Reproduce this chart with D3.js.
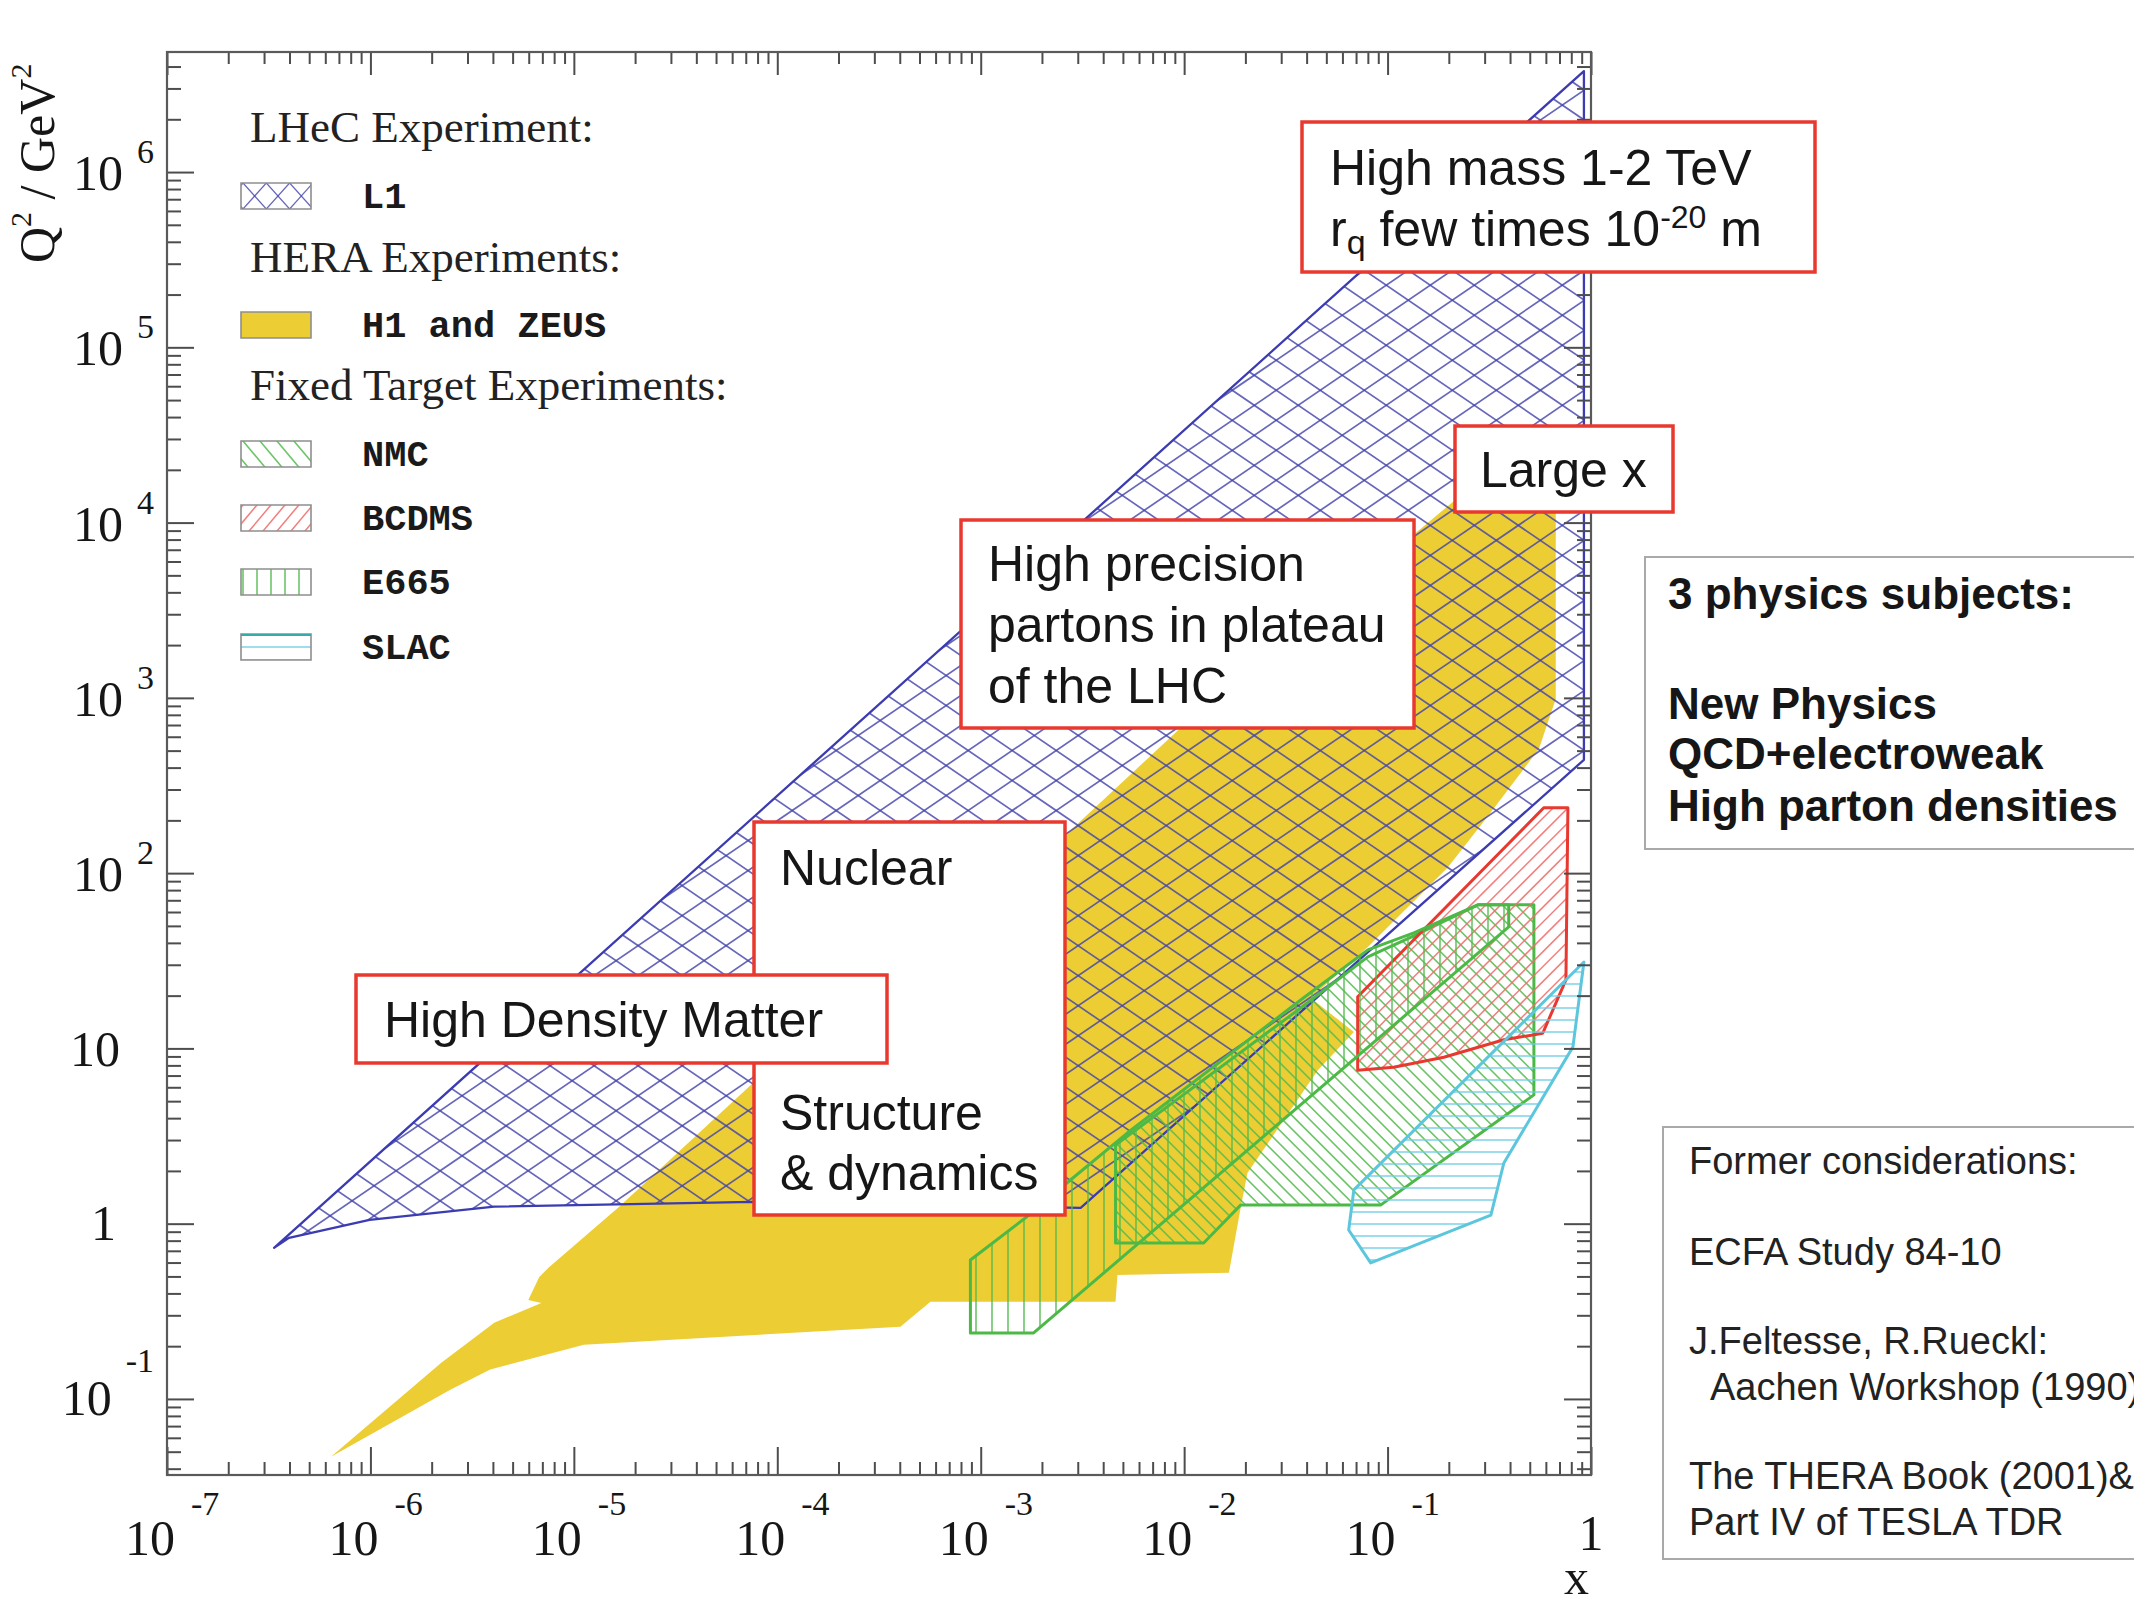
<!DOCTYPE html>
<html>
<head>
<meta charset="utf-8">
<title>Kinematic plane of deep inelastic scattering</title>
<script src="https://cdn.jsdelivr.net/npm/d3@7"></script>
<style>
  html, body { margin: 0; padding: 0; background: #fff; }
  svg { display: block; }
</style>
</head>
<body>
<svg id="chart" width="2134" height="1600"></svg>
<script>
// ---------------------------------------------------------------
// Regions of the (x, Q^2) plane, given as polygon vertices
// ---------------------------------------------------------------

// LHeC experiment, L1 acceptance
const l1X  = [3.36e-7, 3.98e-7, 9.9e-7, 4.06e-6, 7.6e-5, 3.1e-3, 0.923, 0.923];
const l1Q2 = [0.728, 0.83, 1.05, 1.25, 1.33, 1.23, 443, 3.77e6];

// HERA experiments, H1 and ZEUS
const heraX  = [6.4e-7, 2.47e-6, 3.88e-6, 1.12e-5, 4.03e-4, 5.66e-4, 4.6e-3, 4.7e-3,
                0.0166, 0.019, 0.0205, 0.0454, 0.0683, 0.0419, 0.080, 0.198, 0.318,
                0.555, 0.671, 0.671, 0.224, 0.149, 0.00995, 0.00267, 7.6e-5, 1.67e-5,
                7.5e-6, 6.76e-6, 5.97e-6, 6.92e-6, 4.06e-6, 2.23e-6];
const heraQ2 = [0.0468, 0.113, 0.147, 0.204, 0.258, 0.358, 0.358, 0.51,
                0.524, 1.25, 1.95, 7.5, 12.4, 19.4, 37.9, 108, 218,
                512, 986, 13450, 14000, 9440, 700, 169, 6.35, 1.25,
                0.56, 0.497, 0.367, 0.353, 0.272, 0.161];

// Fixed target experiments
const nmcX  = [0.0046, 0.0046, 0.01247, 0.019, 0.0927, 0.524, 0.524, 0.278, 0.1346, 0.080, 0.0374];
const nmcQ2 = [2.81, 0.776, 0.776, 1.28, 1.28, 5.43, 65.9, 65.9, 43.9, 33.3, 17.0];

const bcdmsX  = [0.0713, 0.0713, 0.107, 0.189, 0.373, 0.579, 0.753, 0.77, 0.586];
const bcdmsQ2 = [19.7, 7.5, 7.8, 8.9, 11.2, 12.2, 24.6, 236, 236];

const e665X  = [8.9e-4, 8.9e-4, 1.82e-3, 0.394, 0.394, 0.278, 0.1346, 0.080, 0.0374, 5.27e-3, 2.77e-3, 1.66e-3];
const e665Q2 = [0.62, 0.238, 0.238, 49.3, 65.9, 65.9, 45.6, 36.5, 18.9, 3.3, 1.78, 1.08];

const slacX  = [0.923, 0.815, 0.373, 0.322, 0.0826, 0.0644, 0.0683];
const slacQ2 = [31.1, 10.2, 2.22, 1.12, 0.597, 0.92, 1.56];

// Axis decades (powers of ten carrying a label)
const xDecades = [-7, -6, -5, -4, -3, -2, -1, 0];
const yDecades = [-1, 0, 1, 2, 3, 4, 5, 6];

// Legend
const legendHeads = ["LHeC Experiment:", "HERA Experiments:", "Fixed Target Experiments:"];
const legendNames = ["L1", "H1 and ZEUS", "NMC", "BCDMS", "E665", "SLAC"];

// Annotations
const massLine1 = "High mass 1-2 TeV";
const precisionLines = ["High precision", "partons in plateau", "of the LHC"];
const subjectLines = ["3 physics subjects:", "New Physics", "QCD+electroweak", "High parton densities"];
const formerLines = ["Former considerations:", "ECFA Study 84-10", "J.Feltesse, R.Rueckl:",
                     "Aachen Workshop (1990)", "The THERA Book (2001)&", "Part IV of TESLA TDR"];

// ---------------------------------------------------------------
const SERIF = "'Liberation Serif','Times New Roman',Times,serif";
const SANS  = "'Liberation Sans',Arial,Helvetica,sans-serif";
const MONO  = "'Liberation Mono','Courier New',monospace";

const COL = {
  yellow: "#ecce34",
  blue: "#3b3bb2", mesh: "rgba(68,68,172,0.82)",
  green: "#4cb946", greenHatch: "rgba(84,186,78,0.85)",
  red: "#e8382f", redHatch: "rgba(238,112,110,0.9)",
  cyan: "#5cc6dd", cyanHatch: "rgba(110,205,228,0.9)",
  box: "#e8392f", grey: "#a9a9a9", ink: "#161616"
};

const frame = { left: 167, right: 1591, top: 52, bottom: 1475 };

const x = d3.scaleLog().domain([1e-7, 1]).range([frame.left, frame.right]);
const y = d3.scaleLog().domain([Math.pow(10, -1.434), Math.pow(10, 6.685)])
                       .range([frame.bottom, frame.top]);

const svg = d3.select("#chart");
svg.append("rect").attr("width", 2134).attr("height", 1600).attr("fill", "#fff");
const defs = svg.append("defs");
const closed = d3.line().curve(d3.curveLinearClosed);
let clipCount = 0;

// Parallel hatch lines of a given direction and spacing, clipped to a shape
function hatch(g, shapeD, box, angleDeg, spacing, color, width, ox = 0, oy = 0) {
  const id = "hatchclip" + (clipCount++);
  defs.append("clipPath").attr("id", id).append("path").attr("d", shapeD);
  const a = angleDeg * Math.PI / 180;
  const u = [Math.cos(a), Math.sin(a)], n = [-Math.sin(a), Math.cos(a)];
  const corners = [[box.x0, box.y0], [box.x1, box.y0], [box.x0, box.y1], [box.x1, box.y1]];
  const proj = corners.map(c => (c[0] - ox) * n[0] + (c[1] - oy) * n[1]);
  const t0 = Math.floor(d3.min(proj) / spacing) * spacing, t1 = d3.max(proj);
  const cx = (box.x0 + box.x1) / 2, cy = (box.y0 + box.y1) / 2;
  const L = Math.hypot(box.x1 - box.x0, box.y1 - box.y0) + 4;
  const s = (cx - ox) * u[0] + (cy - oy) * u[1];
  const segs = [];
  for (let t = t0; t <= t1 + 0.01; t += spacing) {
    const px = ox + t * n[0] + s * u[0], py = oy + t * n[1] + s * u[1];
    segs.push([px - L * u[0], py - L * u[1], px + L * u[0], py + L * u[1]]);
  }
  g.append("g").attr("clip-path", `url(#${id})`)
    .selectAll("line").data(segs).join("line")
    .attr("x1", d => d[0]).attr("y1", d => d[1])
    .attr("x2", d => d[2]).attr("y2", d => d[3])
    .attr("stroke", color).attr("stroke-width", width);
}

function polygonOf(xs, qs) { return xs.map((v, i) => [x(v), y(qs[i])]); }
function boxOf(p) {
  return { x0: d3.min(p, q => q[0]), x1: d3.max(p, q => q[0]),
           y0: d3.min(p, q => q[1]), y1: d3.max(p, q => q[1]) };
}

function hatchedRegion(parent, xs, qs, families, hatchColor, hatchWidth, stroke, strokeWidth) {
  const p = polygonOf(xs, qs);
  const d = closed(p);
  const g = parent.append("g");
  families.forEach(f => hatch(g, d, boxOf(p), f.angle, f.spacing, hatchColor, hatchWidth));
  g.append("path").attr("d", d).attr("fill", "none")
    .attr("stroke", stroke).attr("stroke-width", strokeWidth).attr("stroke-linejoin", "round");
}

// ---------------------------------------------------------------
// Data regions
// ---------------------------------------------------------------
const plot = svg.append("g");

plot.append("path").attr("d", closed(polygonOf(heraX, heraQ2))).attr("fill", COL.yellow);

// diamond mesh: cells about 44 px wide and 30 px tall
hatchedRegion(plot, l1X, l1Q2, [{ angle: 34.3, spacing: 24.8 }, { angle: -34.3, spacing: 24.8 }],
              COL.mesh, 1.7, COL.blue, 2.3);

hatchedRegion(plot, nmcX, nmcQ2, [{ angle: 45, spacing: 9.6 }], COL.greenHatch, 1.6, COL.green, 3);
hatchedRegion(plot, bcdmsX, bcdmsQ2, [{ angle: -45, spacing: 10.5 }], COL.redHatch, 1.5, COL.red, 3);
hatchedRegion(plot, e665X, e665Q2, [{ angle: 90, spacing: 16 }], COL.greenHatch, 1.6, COL.green, 3);
hatchedRegion(plot, slacX, slacQ2, [{ angle: 0, spacing: 12 }], COL.cyanHatch, 1.5, COL.cyan, 3);

// ---------------------------------------------------------------
// Axes: ticks on all four sides, pointing inwards
// ---------------------------------------------------------------
const xMajor = xDecades.map(e => Math.pow(10, e));
const xMinor = d3.merge(xDecades.slice(0, -1).map(e => d3.range(2, 10).map(k => k * Math.pow(10, e))));
const yMajor = yDecades.map(e => Math.pow(10, e));
const yMinor = d3.merge(d3.range(-2, 7).map(e => d3.range(2, 10).map(k => k * Math.pow(10, e))))
  .filter(v => v >= y.domain()[0] && v <= y.domain()[1]);

function tickAxis(axisFn, scale, values, size, transform) {
  const g = svg.append("g").attr("transform", transform)
    .call(axisFn(scale).tickValues(values).tickSize(size).tickSizeOuter(0).tickFormat(""));
  g.select(".domain").remove();
  g.selectAll(".tick text").remove();
  g.selectAll(".tick line").attr("stroke", "#4d4d4d").attr("stroke-width", 2);
}
tickAxis(d3.axisBottom, x, xMajor, -28, `translate(0,${frame.bottom})`);
tickAxis(d3.axisBottom, x, xMinor, -13, `translate(0,${frame.bottom})`);
tickAxis(d3.axisTop, x, xMajor, -23, `translate(0,${frame.top})`);
tickAxis(d3.axisTop, x, xMinor, -12, `translate(0,${frame.top})`);
tickAxis(d3.axisLeft, y, yMajor, -27, `translate(${frame.left},0)`);
tickAxis(d3.axisLeft, y, yMinor, -14, `translate(${frame.left},0)`);
tickAxis(d3.axisRight, y, yMajor, -27, `translate(${frame.right},0)`);
tickAxis(d3.axisRight, y, yMinor, -14, `translate(${frame.right},0)`);

svg.append("rect")
  .attr("x", frame.left).attr("y", frame.top)
  .attr("width", frame.right - frame.left).attr("height", frame.bottom - frame.top)
  .attr("fill", "none").attr("stroke", "#5a5a5a").attr("stroke-width", 2.2);

// x tick labels: 10 with a raised exponent
const xl = svg.append("g").attr("font-family", SERIF).attr("fill", COL.ink);
xDecades.forEach(e => {
  const px = x(Math.pow(10, e));
  if (e === 0) {
    xl.append("text").attr("x", px).attr("y", 1550).attr("text-anchor", "middle")
      .attr("font-size", 50).text("1");
    return;
  }
  xl.append("text").attr("x", px + 8).attr("y", 1555).attr("text-anchor", "end")
    .attr("font-size", 50).text("10");
  xl.append("text").attr("x", px + 24).attr("y", 1515).attr("font-size", 34).text(String(e));
});
xl.append("text").attr("x", frame.right - 2).attr("y", 1594).attr("text-anchor", "end")
  .attr("font-size", 50).text("x");

// y tick labels, right aligned
const yl = svg.append("g").attr("font-family", SERIF).attr("fill", COL.ink);
yDecades.forEach(e => {
  const py = y(Math.pow(10, e));
  if (e === 0) {
    yl.append("text").attr("x", 116).attr("y", py + 16).attr("text-anchor", "end")
      .attr("font-size", 50).text("1");
  } else if (e === 1) {
    yl.append("text").attr("x", 120).attr("y", py + 18).attr("text-anchor", "end")
      .attr("font-size", 50).text("10");
  } else {
    const exp = yl.append("text").attr("font-size", 34).text(String(e));
    const w = exp.node().getComputedTextLength();
    exp.attr("x", 154 - w).attr("y", e < 0 ? py - 27 : py - 9);
    yl.append("text").attr("x", 154 - w - 14).attr("y", py + (e < 0 ? 16 : 18))
      .attr("text-anchor", "end").attr("font-size", 50).text("10");
  }
});

// y axis title
const yt = svg.append("text").attr("transform", "translate(54,263) rotate(-90)")
  .attr("font-family", SERIF).attr("font-size", 50).attr("fill", COL.ink);
yt.append("tspan").text("Q");
yt.append("tspan").attr("font-size", 30).attr("dy", -23).text("2");
yt.append("tspan").attr("dy", 23).text(" / GeV");
yt.append("tspan").attr("font-size", 30).attr("dy", -23).text("2");

// ---------------------------------------------------------------
// Legend
// ---------------------------------------------------------------
const lg = svg.append("g");
const headBase = [142, 272, 400];
legendHeads.forEach((h, i) => {
  lg.append("text").attr("x", 250).attr("y", headBase[i])
    .attr("font-family", SERIF).attr("font-size", 45).attr("fill", "#222").text(h);
});

const swatchTop = [183, 312, 441, 505, 569, 634];
const sw = { x: 241, w: 70, h: 26 };
const swatchStyle = [
  { fam: [{ a: 48.1, s: 17.35 }, { a: -48.1, s: 17.35 }], c: COL.mesh, lw: 1.3 },
  { fill: COL.yellow },
  { fam: [{ a: 50, s: 13 }], c: COL.greenHatch, lw: 1.6 },
  { fam: [{ a: -50, s: 10.7 }], c: COL.redHatch, lw: 1.5 },
  { fam: [{ a: 90, s: 14 }], c: COL.greenHatch, lw: 1.6 },
  { fam: [{ a: 0, s: 13 }], c: COL.cyanHatch, lw: 1.6 }
];
legendNames.forEach((name, i) => {
  const top = swatchTop[i], st = swatchStyle[i];
  const g = lg.append("g");
  const rectD = `M${sw.x},${top}h${sw.w}v${sw.h}h${-sw.w}Z`;
  if (st.fill) {
    g.append("path").attr("d", rectD).attr("fill", st.fill);
  } else {
    st.fam.forEach(f => hatch(g, rectD, { x0: sw.x, x1: sw.x + sw.w, y0: top, y1: top + sw.h },
                             f.a, f.s, st.c, st.lw, sw.x + 2, top));
  }
  g.append("path").attr("d", rectD).attr("fill", "none").attr("stroke", "#8e8e8e").attr("stroke-width", 1.6);
  if (i === 5) {
    g.append("line").attr("x1", sw.x).attr("x2", sw.x + sw.w).attr("y1", top + 1).attr("y2", top + 1)
      .attr("stroke", "#3aa9a9").attr("stroke-width", 2.2);
  }
  lg.append("text").attr("x", 362).attr("y", top + 25)
    .attr("font-family", MONO).attr("font-weight", "bold").attr("font-size", 37)
    .attr("fill", "#1a1a1a").text(name);
});

// ---------------------------------------------------------------
// Annotation boxes
// ---------------------------------------------------------------
const notes = svg.append("g").attr("font-family", SANS).attr("fill", COL.ink);

function frameBox(x0, y0, w, h, stroke, sw) {
  notes.append("rect").attr("x", x0).attr("y", y0).attr("width", w).attr("height", h)
    .attr("fill", "#fff").attr("stroke", stroke).attr("stroke-width", sw);
}
function textLine(tx, ty, s, size, weight) {
  return notes.append("text").attr("x", tx).attr("y", ty).attr("font-size", size)
    .attr("font-weight", weight || "normal").text(s);
}

// High mass
frameBox(1302, 122, 513, 150, COL.box, 3.5);
textLine(1330, 185, massLine1, 50);
const rq = notes.append("text").attr("x", 1330).attr("y", 246).attr("font-size", 50);
rq.append("tspan").text("r");
rq.append("tspan").attr("font-size", 34).attr("dy", 8).text("q");
rq.append("tspan").attr("dy", -8).text(" few times 10");
rq.append("tspan").attr("font-size", 32).attr("dy", -18).text("-20");
rq.append("tspan").attr("dy", 18).text(" m");

// Large x
frameBox(1455, 426, 218, 86, COL.box, 3.5);
textLine(1480, 487, "Large x", 50);

// High precision
frameBox(961, 520, 453, 208, COL.box, 3.5);
precisionLines.forEach((s, i) => textLine(988, 581 + i * 61, s, 50));

// Nuclear / Structure & dynamics
frameBox(754, 822, 311, 393, COL.box, 3.5);
textLine(780, 885, "Nuclear", 50);
textLine(780, 1130, "Structure", 50);
textLine(780, 1190, "& dynamics", 50);

// High Density Matter (over the previous box)
frameBox(356, 975, 531, 88, COL.box, 3.5);
textLine(384, 1037, "High Density Matter", 50);

// Physics subjects
frameBox(1645, 557, 600, 292, COL.grey, 2);
const subjBase = [609, 719, 769, 821];
subjectLines.forEach((s, i) => textLine(1668, subjBase[i], s, 44, "bold"));

// Former considerations
frameBox(1663, 1127, 600, 432, COL.grey, 2);
const formerBase = [1174, 1265, 1354, 1400, 1489, 1535];
const formerIndent = [0, 0, 0, 21, 0, 0];
formerLines.forEach((s, i) => textLine(1689 + formerIndent[i], formerBase[i], s, 38).attr("fill", "#222"));
</script>
</body>
</html>
